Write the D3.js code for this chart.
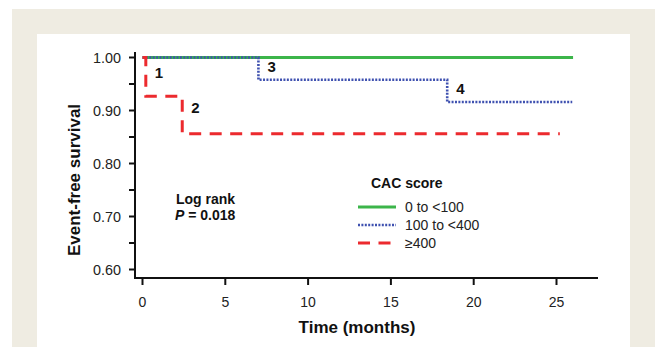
<!DOCTYPE html>
<html>
<head>
<meta charset="utf-8">
<script src="https://cdn.jsdelivr.net/npm/d3@7"></script>
<style>
  body { margin: 0; background: #fff; }
  text { font-family: "Liberation Sans", Arial, sans-serif; }
</style>
</head>
<body>
<div id="viz"></div>
<script>
var width = 655;
var height = 347;

// data
var xTicks = [0, 5, 10, 15, 20, 25];
var yTicks = [0.60, 0.70, 0.80, 0.90, 1.00];
var yMinor = [0.65, 0.75, 0.85, 0.95];

var groups = ["0 to <100", "100 to <400", "\u2265400"];
var colors = ["#3cb54a", "#3f51b0", "#ec2a2e"];
var dashes = ["none", "2,1.4", "12,8.5"];

// step points [time, survival]
var lowPts = [[0, 1.00], [26, 1.00]];
var midPts = [[0, 1.00], [7.0, 1.00], [7.0, 0.958], [18.4, 0.958], [18.4, 0.916], [25.95, 0.916]];
var highPts = [[0, 1.00], [0.2, 1.00], [0.2, 0.927], [2.4, 0.927], [2.4, 0.856], [25.2, 0.856]];
var series = [lowPts, midPts, highPts];

// event labels [time, survival, label]
var events = [[0.2, 1.00, "1"], [2.4, 0.927, "2"], [7.0, 1.00, "3"], [18.4, 0.958, "4"]];

var svg = d3.select("#viz").append("svg")
   .attr("width", width)
   .attr("height", height);

// framed background
svg.append("rect").attr("x", 12).attr("y", 9).attr("width", width - 12).attr("height", height - 9)
   .attr("fill", "#efece2");
svg.append("rect").attr("x", 37).attr("y", 34).attr("width", 630 - 37).attr("height", height - 34)
   .attr("fill", "#fff");

var x = d3.scaleLinear().domain([0, 25]).range([142.5, 556.5]);
var y = d3.scaleLinear().domain([0.60, 1.00]).range([269.5, 57.5]);

var axisX = 135, axisY = 278;

// y axis
svg.append("line").attr("x1", axisX).attr("x2", axisX).attr("y1", 52).attr("y2", axisY + 1)
   .attr("stroke", "#111").attr("stroke-width", 2);
svg.selectAll(".ytick").data(yTicks.concat(yMinor)).enter().append("line")
   .attr("x1", axisX - 6).attr("x2", axisX)
   .attr("y1", function(d) { return y(d); }).attr("y2", function(d) { return y(d); })
   .attr("stroke", "#111").attr("stroke-width", 2);
svg.selectAll(".ylab").data(yTicks).enter().append("text")
   .attr("x", 121).attr("y", function(d) { return y(d) + 5; })
   .attr("text-anchor", "end").attr("font-size", 14).attr("fill", "#222")
   .attr("textLength", 28).attr("lengthAdjust", "spacingAndGlyphs")
   .text(function(d) { return d3.format(".2f")(d); });

// x axis
svg.append("line").attr("x1", axisX - 1).attr("x2", 598).attr("y1", axisY).attr("y2", axisY)
   .attr("stroke", "#111").attr("stroke-width", 2);
svg.selectAll(".xtick").data(xTicks).enter().append("line")
   .attr("x1", function(d) { return x(d); }).attr("x2", function(d) { return x(d); })
   .attr("y1", axisY).attr("y2", axisY + 7)
   .attr("stroke", "#111").attr("stroke-width", 2);
svg.selectAll(".xlab").data(xTicks).enter().append("text")
   .attr("x", function(d) { return x(d); }).attr("y", 307)
   .attr("text-anchor", "middle").attr("font-size", 14).attr("fill", "#222")
   .text(function(d) { return d; });

// axis titles
svg.append("text").attr("x", 357).attr("y", 333).attr("text-anchor", "middle")
   .attr("font-size", 17).attr("font-weight", "bold").attr("fill", "#111")
   .text("Time (months)");
svg.append("text").attr("transform", "translate(80,180) rotate(-90)").attr("text-anchor", "middle")
   .attr("font-size", 17).attr("font-weight", "bold").attr("fill", "#111")
   .text("Event-free survival");

// curves
var line = d3.line().x(function(d) { return x(d[0]); }).y(function(d) { return y(d[1]); });
series.forEach(function(pts, i) {
   svg.append("path").attr("d", line(pts))
      .attr("fill", "none").attr("stroke", colors[i])
      .attr("stroke-width", i == 1 ? 2.6 : 3)
      .attr("stroke-dasharray", dashes[i]);
});

// event numbers
var offs = [[9, 20], [9, 17], [9, 14], [9, 14]];
svg.selectAll(".ev").data(events).enter().append("text")
   .attr("x", function(d, i) { return x(d[0]) + offs[i][0]; })
   .attr("y", function(d, i) { return y(d[1]) + offs[i][1]; })
   .attr("font-size", 15).attr("font-weight", "bold").attr("fill", "#111")
   .text(function(d) { return d[2]; });

// log rank
svg.append("text").attr("x", 176).attr("y", 204).attr("font-size", 14).attr("font-weight", "bold")
   .attr("fill", "#111").text("Log rank");
var pt = svg.append("text").attr("x", 175).attr("y", 220).attr("font-size", 14).attr("font-weight", "bold")
   .attr("fill", "#111");
pt.append("tspan").attr("font-style", "italic").text("P");
pt.append("tspan").text(" = 0.018");

// legend
svg.append("text").attr("x", 371).attr("y", 188).attr("font-size", 14).attr("font-weight", "bold")
   .attr("fill", "#111").text("CAC score");
var leg = svg.selectAll(".leg").data(groups).enter().append("g")
   .attr("transform", function(d, i) { return "translate(358," + (207 + i * 18) + ")"; });
leg.append("line").attr("x1", 0).attr("x2", 38).attr("y1", 0).attr("y2", 0)
   .attr("stroke", function(d, i) { return colors[i]; })
   .attr("stroke-width", function(d, i) { return i == 1 ? 2.6 : 3; })
   .attr("stroke-dasharray", function(d, i) { return dashes[i]; });
leg.append("text").attr("x", 47).attr("y", 5).attr("font-size", 14).attr("fill", "#222")
   .text(function(d) { return d; });
</script>
</body>
</html>
